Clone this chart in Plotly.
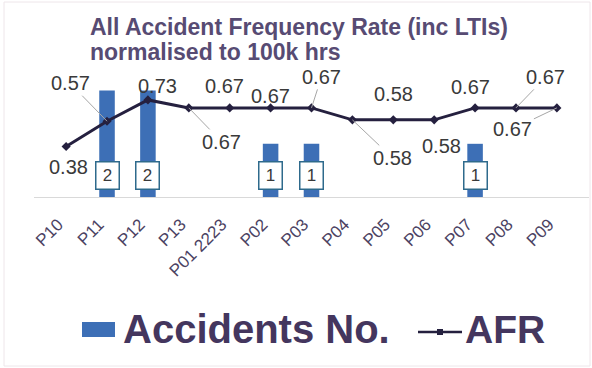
import plotly.graph_objects as go

# ---- data ----
periods = ["P10", "P11", "P12", "P13", "P01 2223", "P02", "P03", "P04",
           "P05", "P06", "P07", "P08", "P09"]
accidents = [0, 2, 2, 0, 0, 1, 1, 0, 0, 0, 1, 0, 0]
afr = [0.38, 0.57, 0.73, 0.67, 0.67, 0.67, 0.67, 0.58, 0.58, 0.58, 0.67, 0.67, 0.67]

# label placement (pixel offsets from point) and whether a leader line is drawn
afr_label_dx = [2, -37, 10, 33, -5, 0, 10, 40, 0, 7, -5, 30, -44]
afr_label_dy = [21, -38, -14, 34, -22, -12, -31, 38, -26, 26, -21, -31, 21]
afr_leader = [False, True, False, True, False, False, True, True, False, False, False, True, True]

W, H = 592, 368
L, R, T, B = 34, 3, 64, 171
PW, PH = W - L - R, H - T - B


def px(x):
    return (x - L) / PW


def py(y):
    return (H - B - y) / PH


BAR = "#3d6fb6"
LINE = "#25203f"
LABEL = "#3a3a3a"
TITLE = "#574b73"
LEG = "#44365e"
FONT = "Arial, Liberation Sans, sans-serif"

fig = go.Figure()
fig.add_trace(go.Bar(x=periods, y=accidents, name="Accidents No.",
                     marker=dict(color=BAR, line=dict(width=0)),
                     width=0.38, yaxis="y", showlegend=False))
fig.add_trace(go.Scatter(x=periods, y=afr, name="AFR", mode="lines+markers",
                         line=dict(color=LINE, width=3),
                         marker=dict(symbol="diamond", size=7, color=LINE),
                         yaxis="y2", showlegend=False))

ann = []
# AFR labels
for p, v, dx, dy, ld in zip(periods, afr, afr_label_dx, afr_label_dy, afr_leader):
    ann.append(dict(x=p, y=v, xref="x", yref="y2", text=f"{v:.2f}",
                    showarrow=True, arrowhead=0, arrowwidth=1, standoff=0,
                    arrowcolor="#a6a6a6" if ld else "rgba(0,0,0,0)",
                    ax=dx, ay=dy, font=dict(family=FONT, size=20, color=LABEL)))
# accident count labels
for p, n in zip(periods, accidents):
    if n > 0:
        ann.append(dict(x=p, y=0.4, xref="x", yref="y", text=str(n),
                        showarrow=False, bgcolor="white", bordercolor="#2e6a8c",
                        borderwidth=1.5, borderpad=2, width=18, height=22,
                        font=dict(family=FONT, size=17, color=LABEL)))
# title
ann.append(dict(x=px(88), y=py(27), xref="paper", yref="paper", xanchor="left",
                yanchor="middle", showarrow=False,
                text="<b>All Accident Frequency Rate (inc LTIs)</b>",
                font=dict(family=FONT, size=23, color=TITLE)))
ann.append(dict(x=px(88), y=py(52), xref="paper", yref="paper", xanchor="left",
                yanchor="middle", showarrow=False,
                text="<b>normalised to 100k hrs</b>",
                font=dict(family=FONT, size=23, color=TITLE)))
# legend
ann.append(dict(x=px(121), y=py(329), xref="paper", yref="paper", xanchor="left",
                yanchor="middle", showarrow=False, text="<b>Accidents No.</b>",
                font=dict(family=FONT, size=40, color=LEG)))
ann.append(dict(x=px(463), y=py(329), xref="paper", yref="paper", xanchor="left",
                yanchor="middle", showarrow=False, text="<b>AFR</b>",
                font=dict(family=FONT, size=39, color=LEG)))

shapes = [
    dict(type="rect", xref="paper", yref="paper", x0=px(82), x1=px(115),
         y0=py(337), y1=py(322), fillcolor=BAR, line=dict(width=0)),
    dict(type="line", xref="paper", yref="paper", x0=px(418), x1=px(462),
         y0=py(332), y1=py(332), line=dict(color=LINE, width=2.5)),
    dict(type="rect", xref="paper", yref="paper", x0=px(437), x1=px(443),
         y0=py(335), y1=py(329), fillcolor=LINE, line=dict(width=0)),
    dict(type="rect", xref="paper", yref="paper", x0=px(4), x1=px(590),
         y0=py(366), y1=py(2), line=dict(color="#eee6ea", width=1)),
]

fig.update_layout(
    width=W, height=H,
    margin=dict(l=L, r=R, t=T, b=B),
    paper_bgcolor="white", plot_bgcolor="white",
    bargap=0.6,
    annotations=ann, shapes=shapes,
    xaxis=dict(type="category", showline=True, linecolor="#d9d9d9", linewidth=1,
               showgrid=False, ticks="", tickangle=-45, ticklabelstandoff=10,
               ticklabelshift=-8,
               tickfont=dict(family=FONT, size=17, color="#4b4262")),
    yaxis=dict(range=[0, 2.5], visible=False, showgrid=False),
    yaxis2=dict(range=[0, 1.0], overlaying="y", visible=False, showgrid=False),
    showlegend=False,
)

fig.write_html("out.html")
